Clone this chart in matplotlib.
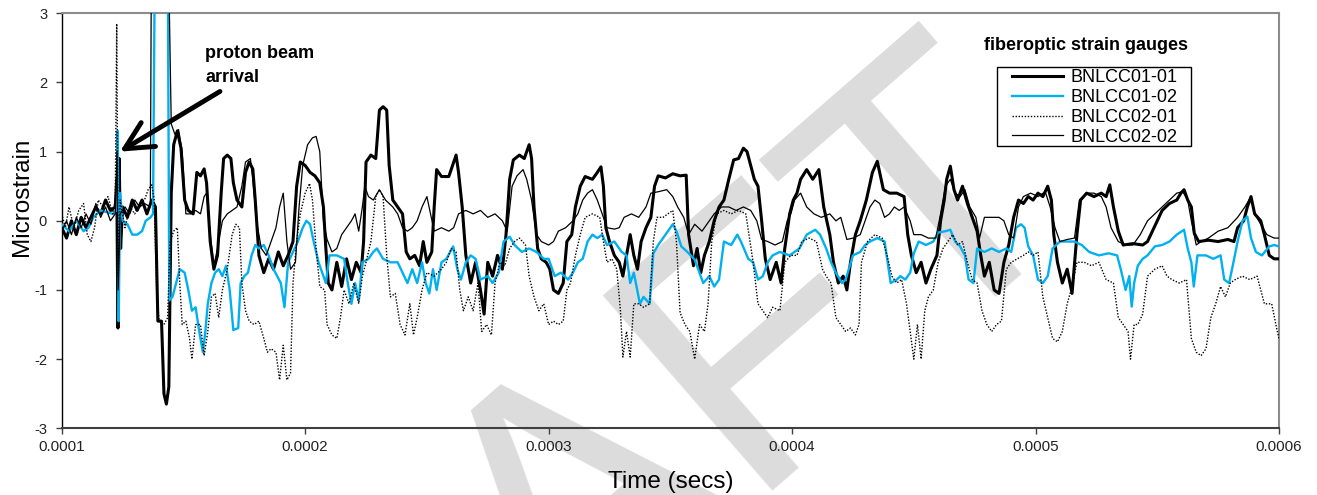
import numpy as np
import matplotlib
matplotlib.use("Agg")
import matplotlib.pyplot as plt
from matplotlib.patches import Rectangle
from matplotlib.lines import Line2D

plt.rcParams['font.family'] = ['Liberation Sans', 'DejaVu Sans']
plt.rcParams['axes.unicode_minus'] = False

# time in microseconds, strain in microstrain
bnlcc01_01 = [(100,-0.1),(102,-0.25),(104,0.0),(106,-0.2),(108,0.05),(110,-0.1),(112,0.05),(114,0.2),(116,0.1),(118,0.3),(120,0.15),(122,0.2),(122.6,0.6),(123.1,-1.55),(123.6,0.9),(124.2,-0.4),(125,0.2),(127,0.05),(129,0.3),(131,0.15),(133,0.3),(135,0.1),(137,0.3),(138.5,0.2),(139.5,-1.45),(141,-1.45),(142,-2.5),(143,-2.65),(144,-2.4),(145,0.4),(146,1.1),(147.5,1.3),(149,1.05),(150.5,0.3),(152,0.15),(154,0.1),(155.5,0.7),(157,0.65),(158.5,0.75),(159.5,0.55),(161,-0.3),(162.5,-0.7),(164,-0.5),(165.5,0.4),(166.5,0.9),(168,0.95),(169.5,0.9),(170.5,0.55),(172,0.3),(174,0.2),(175.5,0.7),(177,0.85),(178.5,0.75),(179.5,0.3),(181,-0.5),(183,-0.75),(185,-0.55),(187,-0.7),(189,-0.45),(191,-0.65),(193,-0.5),(195,-0.3),(196.5,0.5),(198,0.85),(200,0.8),(202,0.7),(204,0.65),(206,0.55),(207.5,0.2),(208.5,-0.4),(209.5,-0.9),(211,-1.0),(213,-0.6),(215,-0.95),(217,-0.55),(219,-0.85),(221,-0.6),(223,-0.75),(224,-0.3),(225,0.85),(227,0.95),(229,0.9),(230.5,1.6),(232,1.65),(233.5,1.6),(234.5,0.8),(236,0.3),(238,0.2),(240,0.1),(241.5,-0.45),(243,-0.55),(245,-0.5),(247,-0.65),(248.5,-0.3),(250,-0.6),(252,-0.45),(253,0.2),(254,0.74),(256,0.64),(259,0.64),(261,0.85),(262,0.95),(263,0.7),(264.5,0.2),(266,-0.5),(268,-0.9),(270,-0.6),(272,-1.0),(273.5,-1.35),(275,-0.6),(277,-0.8),(279,-0.5),(281,-0.7),(282.5,-0.2),(284,0.6),(285.5,0.88),(288,0.95),(290,0.9),(292,1.1),(293,0.9),(294,0.2),(295.5,-0.4),(297,-0.55),(299,-0.6),(300.5,-0.7),(302,-1.0),(304,-1.05),(306,-0.9),(307.5,-0.3),(309.5,-0.2),(311,0.2),(313,0.5),(315,0.64),(318,0.6),(320,0.7),(321.5,0.78),(322.5,0.5),(323.5,-0.1),(325,-0.3),(327,-0.5),(329,-0.6),(330.5,-0.8),(332,-0.5),(333.5,-0.2),(335,-0.5),(336.5,-0.7),(338,-0.3),(340,-0.1),(342,0.05),(343.5,0.5),(345,0.65),(348,0.62),(351,0.68),(354,0.65),(356.5,0.66),(357.5,-0.2),(359.5,-0.65),(361,-0.4),(362.5,-0.75),(364,-0.5),(366,-0.3),(368,0.0),(370,0.2),(372,0.3),(374,0.6),(376,0.88),(378,0.9),(380,1.05),(381.5,1.0),(383,0.8),(384.5,0.6),(386,0.5),(387.5,0.0),(389,-0.55),(391,-0.85),(393.5,-0.6),(395.5,-0.9),(397,-0.4),(399,0.1),(400.5,0.3),(402,0.4),(403.5,0.6),(406,0.74),(408.5,0.6),(411,0.74),(413,0.2),(415.5,-0.2),(417,-0.6),(419,-0.9),(421,-0.8),(422.5,-1.0),(424,-0.6),(426,-0.2),(428,0.0),(430.5,0.3),(433,0.7),(435,0.86),(437.5,0.45),(440,0.4),(443,0.4),(446,0.35),(447.5,-0.2),(449,-0.5),(451,-0.75),(453,-0.6),(455,-0.9),(457,-0.7),(459.5,-0.5),(461,0.0),(462.5,0.3),(463.5,0.6),(465,0.79),(466.5,0.45),(468,0.3),(470,0.5),(472,0.25),(474,0.05),(476,-0.15),(477.5,-0.5),(479,-0.8),(481,-0.6),(483,-1.0),(485,-1.05),(487,-0.6),(489,-0.35),(491,0.05),(493,0.3),(495,0.25),(497,0.35),(499,0.3),(501,0.4),(503,0.35),(505,0.5),(506.5,0.3),(507.5,-0.2),(509,-0.6),(511,-0.9),(513,-0.7),(515,-1.05),(517,-0.2),(518.5,0.3),(521,0.4),(524,0.35),(527,0.4),(529,0.35),(530.5,0.52),(532,0.2),(534,-0.15),(536,-0.35),(540,-0.33),(544,-0.35),(546,-0.3),(548,-0.15),(550,0.0),(552,0.15),(555,0.25),(558,0.3),(559.7,0.4),(561,0.45),(562.5,0.3),(564,0.2),(565.2,-0.18),(567,-0.3),(571,-0.28),(575,-0.3),(579,-0.27),(581.5,-0.3),(583,-0.1),(585.5,0.0),(587,0.2),(588.5,0.35),(590,0.1),(592.5,0.0),(594,-0.2),(596,-0.5),(598,-0.55),(600,-0.55)]

bnlcc01_02 = [(100,-0.05),(103,-0.15),(106,0.0),(109,-0.15),(111,-0.1),(113,0.05),(116,0.15),(119,0.12),(121,0.1),(122.5,0.15),(123,1.3),(123.4,-1.45),(124,0.4),(125,0.0),(127,-0.05),(129,-0.2),(131,-0.2),(133,-0.15),(134.5,0.0),(136.5,0.05),(137.5,0.1),(138.2,3.5),(143.6,3.5),(144.2,-1.15),(145.5,-1.1),(147,-0.9),(148.5,-0.7),(150.5,-0.75),(152,-1.0),(153.5,-1.3),(155,-1.25),(156.5,-1.6),(158,-1.9),(159,-1.6),(160,-1.2),(161.5,-0.9),(163,-0.75),(164.5,-0.7),(166,-0.8),(167.5,-0.65),(169,-1.0),(170.5,-1.58),(172.5,-1.55),(173.5,-0.9),(175,-0.8),(176.5,-0.75),(178,-0.5),(179.5,-0.35),(181,-0.4),(183,-0.35),(185,-0.5),(187,-0.7),(188.5,-0.8),(190,-0.9),(191.5,-1.25),(193,-0.6),(195,-0.45),(197,-0.3),(199,-0.1),(200.5,0.0),(202,-0.05),(203.5,-0.3),(205.5,-0.6),(207,-0.75),(208.5,-0.9),(210,-0.5),(213,-0.5),(216,-0.55),(217.5,-0.9),(219,-1.2),(220.5,-0.9),(222,-1.15),(223.5,-0.6),(226,-0.55),(228,-0.45),(229.5,-0.4),(232,-0.55),(235,-0.6),(238,-0.6),(240,-0.75),(242,-0.9),(244,-0.7),(246,-0.9),(248,-0.6),(249.5,-0.9),(251,-1.05),(252.5,-0.7),(254,-1.0),(256,-0.6),(258,-0.55),(260.8,-0.37),(262.5,-0.7),(264,-0.85),(266,-0.6),(268,-0.5),(270,-0.55),(272,-0.85),(275,-0.8),(277,-0.9),(279.5,-0.75),(281.5,-0.3),(284,-0.23),(286,-0.35),(289,-0.45),(292,-0.4),(295,-0.45),(298,-0.55),(300,-0.55),(302.5,-0.8),(305,-0.75),(308,-0.85),(310,-0.75),(312,-0.6),(314,-0.55),(316,-0.3),(318,-0.2),(320,-0.25),(322,-0.2),(324,-0.35),(327,-0.3),(330,-0.45),(332,-0.5),(333.5,-0.9),(335,-0.75),(337.5,-1.2),(339,-1.1),(341.5,-1.2),(343,-0.47),(345,-0.35),(347,-0.25),(349,-0.15),(351,-0.05),(352.5,-0.15),(354.5,-0.37),(357,-0.45),(360,-0.56),(363.5,-0.9),(366,-0.8),(368,-0.95),(370,-0.85),(372,-0.3),(375,-0.35),(377.5,-0.2),(379,-0.3),(382,-0.55),(384,-0.6),(386,-0.85),(388,-0.8),(390,-0.6),(392,-0.5),(395,-0.45),(399,-0.5),(403,-0.4),(406,-0.2),(409.5,-0.13),(411.5,-0.2),(414,-0.4),(416,-0.6),(418,-0.75),(420.5,-0.9),(422,-0.85),(425,-0.5),(428,-0.45),(430,-0.35),(432,-0.3),(435,-0.25),(438,-0.3),(440.5,-0.9),(443,-0.85),(444.5,-0.8),(446.5,-0.85),(448.5,-0.75),(450,-0.47),(452,-0.3),(455,-0.35),(458,-0.3),(460,-0.17),(463,-0.15),(465,-0.13),(467,-0.3),(469,-0.37),(471,-0.5),(472.5,-0.85),(474.5,-0.9),(476,-0.4),(479,-0.45),(482,-0.4),(485,-0.45),(488,-0.4),(490,-0.45),(492,-0.1),(494,-0.05),(495.5,-0.1),(497,-0.37),(499,-0.5),(501,-0.85),(503,-0.9),(505,-0.8),(507,-0.4),(510,-0.3),(513,-0.3),(516,-0.3),(519,-0.35),(522,-0.45),(526,-0.5),(530,-0.47),(533.5,-0.5),(535,-0.7),(537,-1.0),(538.5,-0.8),(539.5,-1.24),(540.5,-0.9),(542,-0.65),(544,-0.55),(546,-0.5),(549,-0.37),(552,-0.35),(555,-0.3),(558,-0.2),(561,-0.13),(562.5,-0.4),(564,-0.6),(565,-0.95),(566.5,-0.5),(570,-0.5),(573,-0.55),(576,-0.5),(577.5,-0.85),(579.5,-0.9),(581,-0.65),(583,-0.3),(585,0.0),(587,0.06),(588.5,-0.25),(590.5,-0.45),(593,-0.5),(596,-0.37),(598,-0.35),(600,-0.37)]

bnlcc02_01 = [(100,0.1),(101.5,-0.1),(103,0.2),(105,-0.1),(107,0.15),(109,0.25),(110.5,-0.2),(112,-0.3),(113.5,-0.1),(115,0.3),(117,0.2),(119,0.35),(121,0.1),(122,0.3),(122.6,2.85),(123.2,-0.8),(124,0.3),(126,-0.1),(128,0.2),(130,0.1),(132,0.25),(134,0.3),(135.5,0.45),(137,0.52),(138,0.3),(139,-1.0),(140,-1.45),(142,-1.5),(143.5,-1.4),(144.5,-0.3),(146,-0.15),(147.5,-0.1),(148.5,-0.9),(149.5,-1.5),(151,-1.45),(152.5,-1.7),(153.5,-2.0),(155,-1.5),(157,-1.5),(158.5,-1.95),(160,-1.6),(161.5,-1.1),(163,-1.05),(164.5,-1.4),(166,-1.0),(168,-0.7),(170,-0.2),(171.5,-0.05),(173,-0.1),(174,-0.9),(175.5,-1.3),(177,-1.45),(179,-1.5),(181,-1.45),(183,-1.7),(184.5,-1.9),(186,-1.85),(188,-1.9),(189.5,-2.3),(191,-1.8),(192.5,-2.3),(194,-2.2),(195,-0.9),(196.5,-0.3),(198,0.1),(200,0.4),(201.8,0.54),(203,0.3),(204.5,-0.4),(206,-0.95),(208,-1.0),(209,-1.5),(211,-1.65),(213,-1.7),(214.5,-1.4),(216,-1.0),(218,-1.2),(220,-0.9),(222,-1.2),(223.5,-0.8),(225,-0.6),(227,-0.3),(229,0.35),(230.5,0.45),(232,0.35),(233.5,-0.5),(235,-1.1),(237,-1.05),(239,-1.5),(241,-1.65),(243,-1.2),(244.5,-1.65),(246,-1.4),(248,-1.0),(250,-0.75),(253,-0.8),(256,-0.7),(258,-0.6),(260,-0.4),(262,-0.45),(263.5,-1.0),(265,-1.3),(267,-1.1),(269,-1.3),(271,-0.9),(272.5,-1.6),(274.5,-1.5),(276.5,-1.65),(278,-0.9),(280,-0.6),(282,-0.65),(284,-0.4),(286,-0.3),(288,-0.25),(290.5,-0.35),(292,-0.8),(294,-1.1),(296,-1.3),(298,-1.2),(300,-1.5),(302,-1.45),(304,-1.5),(306,-1.45),(307.5,-1.0),(309,-0.9),(311,-0.5),(313,-0.2),(315,0.05),(318,0.1),(321,0.05),(322.5,-0.3),(324,-0.6),(326,-0.55),(328,-0.7),(329.5,-1.3),(330.5,-1.97),(332,-1.6),(333.5,-1.97),(335,-1.2),(337,-1.2),(339,-1.25),(341.5,-1.2),(343,-0.3),(344.5,0.05),(347,0.05),(349,0.1),(351,0.15),(352.5,-0.3),(354,-1.33),(356,-1.5),(358,-1.6),(360,-2.0),(362,-1.5),(364,-1.6),(365.5,-1.2),(367,-0.3),(369,0.1),(372,0.15),(375,0.1),(378,0.15),(381,0.1),(384,-0.6),(386,-1.2),(388,-1.3),(390,-1.4),(392,-1.25),(395,-1.3),(397,-0.6),(399.5,-0.5),(402,-0.5),(404,-0.3),(407,-0.25),(410,-0.3),(412.5,-0.7),(414,-0.8),(416,-0.9),(418,-1.4),(420,-1.5),(422,-1.6),(424,-1.55),(426,-1.65),(427.5,-1.5),(428.5,-0.6),(431,-0.3),(434,-0.2),(437,-0.25),(439,-0.5),(441,-0.8),(443,-0.9),(445,-0.85),(447,-1.2),(448.5,-1.6),(450,-2.0),(451.5,-1.5),(453,-2.0),(454.5,-1.3),(456,-1.1),(458,-1.0),(460,-0.6),(462,-0.4),(464,-0.3),(466,-0.2),(468,-0.35),(470,-0.3),(472,-0.6),(474,-0.85),(476,-0.9),(478,-1.3),(480,-1.5),(482,-1.6),(484,-1.5),(486,-1.45),(488,-0.7),(490,-0.6),(492.5,-0.55),(495,-0.5),(497,-0.45),(499,-0.5),(501,-0.45),(503,-1.1),(505,-1.4),(507,-1.7),(509,-1.75),(511,-1.6),(513,-1.2),(515,-0.95),(517,-0.6),(520,-0.6),(523,-0.65),(526,-0.6),(529,-0.85),(532,-0.9),(534,-1.4),(536,-1.5),(538,-1.6),(539,-2.0),(540.5,-1.5),(542,-1.5),(544,-1.35),(546,-0.8),(549,-0.7),(552,-0.65),(554,-0.8),(556,-0.85),(559,-0.9),(562,-0.85),(564,-1.7),(566,-1.9),(568,-1.95),(570,-1.85),(572,-1.4),(574,-1.2),(576,-0.95),(578,-1.1),(580,-0.9),(582,-0.85),(585,-0.8),(588,-0.85),(591,-0.8),(594,-1.2),(597,-1.2),(599,-1.55),(600,-1.7)]

bnlcc02_02 = [(100,-0.15),(102,0.0),(104,-0.2),(106,0.05),(108,-0.1),(110,0.1),(112,-0.05),(114,0.25),(116,0.05),(118,0.2),(120,0.0),(122,0.1),(122.7,1.0),(123.2,-1.0),(124,0.1),(126,0.2),(128,0.1),(130,0.3),(132,0.2),(134,0.25),(136.4,0.2),(136.8,3.5),(144.0,3.5),(145,1.4),(146.5,1.25),(148,1.32),(149.5,1.0),(151,0.1),(153,0.1),(155,0.15),(157,0.1),(158.5,0.35),(159.5,0.4),(161,-0.2),(162.5,-0.65),(164,-0.4),(166,0.0),(168,0.1),(170,0.15),(172,0.2),(174,0.5),(175.5,0.85),(177.5,0.9),(178.5,0.6),(180,0.0),(182,-0.4),(184,-0.5),(186,-0.3),(188,-0.1),(189.5,0.2),(191,0.4),(192.5,-0.3),(194,-0.7),(196,-0.6),(197.5,0.2),(199,0.8),(201,1.1),(203,1.2),(204.5,1.22),(206,1.0),(207.5,0.0),(209,-0.27),(211,-0.45),(213,-0.4),(215,-0.2),(217,-0.1),(219,0.0),(220.5,0.1),(222,-0.15),(223.5,0.2),(224.5,0.5),(226,0.35),(228,0.3),(230.5,0.45),(233,0.3),(236,0.2),(238,0.1),(240,-0.1),(242,-0.15),(244,-0.1),(246,0.0),(248,0.2),(250,0.35),(251.5,0.1),(253,-0.15),(256,-0.1),(259,-0.15),(261,-0.1),(263,0.1),(266,0.15),(269,0.1),(272,0.15),(275,0.05),(278,0.1),(281,0.0),(283,-0.15),(285,0.5),(287,0.65),(289.5,0.74),(291,0.6),(293,0.3),(295,-0.2),(297,-0.3),(300,-0.35),(302,-0.3),(304,-0.15),(307,-0.1),(310,0.0),(312,0.1),(314,0.3),(316,0.4),(318,0.45),(320,0.3),(322,0.1),(324,-0.1),(327,-0.12),(329,-0.1),(331,0.05),(334,0.1),(337,0.05),(340,0.2),(342,0.4),(345,0.42),(348.5,0.45),(351,0.35),(353,0.2),(355.5,0.05),(357.5,-0.2),(360,-0.05),(363,-0.15),(366,0.0),(368,0.1),(371,0.2),(374,0.2),(377,0.15),(380,0.2),(383,0.15),(385.5,0.0),(387.5,-0.27),(390,-0.3),(393,-0.35),(396,-0.3),(398,0.0),(399.5,0.1),(401,0.3),(403.5,0.4),(406,0.2),(409,0.1),(412,0.05),(415.5,0.1),(418,0.0),(420,0.05),(422.5,-0.27),(425,-0.25),(428,-0.2),(430,0.0),(432,0.2),(434,0.3),(436,0.25),(438,0.05),(440,0.1),(442,0.2),(444,0.15),(446,0.2),(448.5,0.0),(450,-0.2),(453,-0.2),(456,-0.25),(459,-0.25),(461,0.1),(463,0.5),(465,0.6),(467,0.4),(469,0.35),(471,0.45),(473,0.2),(475.5,0.05),(477,-0.25),(479,0.05),(482,0.05),(485,0.05),(487,0.0),(489,-0.2),(491,-0.25),(493,0.2),(495,0.35),(498,0.4),(501,0.35),(504,0.42),(506,0.2),(508,-0.1),(510,-0.3),(513,-0.27),(516,-0.25),(518,0.3),(521,0.4),(524,0.4),(527,0.35),(529,0.2),(531,-0.1),(534,-0.3),(537,-0.35),(540,-0.35),(543,-0.2),(546,0.0),(549,0.1),(552,0.2),(555,0.3),(558,0.4),(560.5,0.42),(562.5,0.3),(564,0.0),(566,-0.35),(568,-0.3),(571,-0.25),(575,-0.15),(579,-0.1),(583,0.05),(586,0.2),(588.5,0.35),(590,0.1),(592.5,-0.05),(595,-0.2),(598,-0.25),(600,-0.25)]

labels = ['BNLCC01-01', 'BNLCC01-02', 'BNLCC02-01', 'BNLCC02-02']
xticks = [0.0001, 0.0002, 0.0003, 0.0004, 0.0005, 0.0006]
yticks = [-3, -2, -1, 0, 1, 2, 3]


def split(series):
    arr = np.array(series, dtype=float)
    return arr[:, 0] * 1e-6, arr[:, 1]


W, H = 1317, 495
fig = plt.figure(figsize=(W / 100, H / 100), dpi=100)
fig.patch.set_facecolor('white')

# DRAFT watermark behind everything, anchored at the start of its baseline
fig.text(145 / W, 1 - 1010 / H, 'DRAFT', fontsize=270, rotation=41, rotation_mode='anchor',
         color='#dcdcdc', ha='left', va='baseline', zorder=-5)

left, right, top, bottom = 61.7, 1279, 13.3, 428.3
ax = fig.add_axes([left / W, 1 - bottom / H, (right - left) / W, (bottom - top) / H])
ax.set_facecolor('none')

styles = [
    dict(color='black', lw=2.2, ls='-'),
    dict(color='#00B0F0', lw=1.7, ls='-'),
    dict(color='black', lw=1.0, ls=(0, (1, 1.2))),
    dict(color='black', lw=0.9, ls='-'),
]
for s, st in zip([bnlcc01_01, bnlcc01_02, bnlcc02_01, bnlcc02_02], styles):
    t, v = split(s)
    ax.plot(t, v, **st, zorder=3)

ax.set_xlim(0.0001, 0.0006)
ax.set_ylim(-3, 3)
ax.set_xticks(xticks)
ax.set_xticklabels(['%.4f' % x for x in xticks], fontsize=11)
ax.set_yticks(yticks)
ax.set_yticklabels([str(y) for y in yticks], fontsize=10.5)
ax.tick_params(axis='both', direction='out', length=4, width=1, color='#404040', labelcolor='#222222')
ax.tick_params(axis='x', pad=4.5)
ax.tick_params(axis='y', pad=6.5)

ax.spines['left'].set_color('black')
ax.spines['left'].set_linewidth(1.0)
ax.spines['bottom'].set_color('#404040')
ax.spines['bottom'].set_linewidth(1.5)
for k in ['top', 'right']:
    ax.spines[k].set_color('#8c8c8c')
    ax.spines[k].set_linewidth(1.5)

ax.set_xlabel('Time (secs)', fontsize=17.5, labelpad=12)
ax.set_ylabel('Microstrain', fontsize=17.5)
ax.yaxis.set_label_coords((33 - left) / (right - left), (bottom - 197) / (bottom - top))

# proton beam annotation
ax.text(158.9e-6, 2.35, 'proton beam', fontsize=13, fontweight='bold', ha='left', va='baseline')
ax.text(158.9e-6, 2.0, 'arrival', fontsize=13, fontweight='bold', ha='left', va='baseline')
ax.annotate('', xy=(123.9e-6, 1.0), xytext=(165e-6, 1.87),
            arrowprops=dict(arrowstyle='->,head_length=1.0,head_width=0.5', lw=3.5,
                            color='black', mutation_scale=20, shrinkA=0, shrinkB=0),
            zorder=6)

# legend
handles = [Line2D([], [], **st) for st in styles]
leg = fig.legend(handles, labels, loc='upper left', bbox_to_anchor=(1012 / W, 1 - 69.5 / H),
                 frameon=False, fontsize=13, handlelength=2.85, handletextpad=0.37,
                 labelspacing=0.15, borderpad=0, borderaxespad=0)
fig.patches.append(Rectangle((996.7 / W, 1 - 145.7 / H), (1190.7 - 996.7) / W, (145.7 - 67.3) / H,
                             transform=fig.transFigure, fill=False, edgecolor='black', lw=1.0))
fig.text(1085.5 / W, 1 - 45 / H, 'fiberoptic strain gauges', fontsize=13, fontweight='bold',
         ha='center', va='center')

fig.savefig('out.png', dpi=100)
